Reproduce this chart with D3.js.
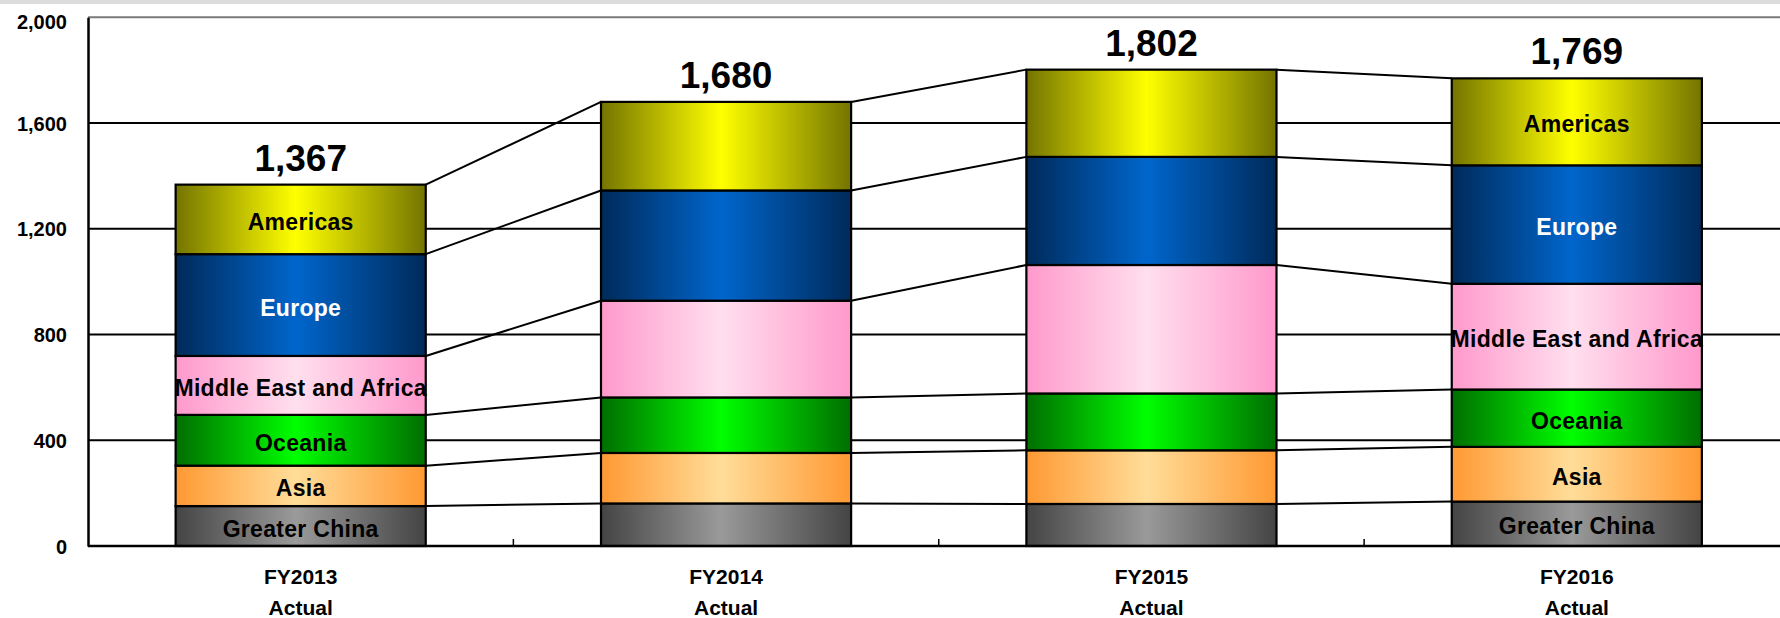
<!DOCTYPE html>
<html>
<head>
<meta charset="utf-8">
<script src="https://cdn.jsdelivr.net/npm/d3@7"></script>
<style>
  html, body { margin: 0; padding: 0; background: #ffffff; }
  svg { display: block; }
  text { font-family: "Liberation Sans", Arial, sans-serif; }
</style>
</head>
<body>
<svg id="chart" width="1780" height="618"></svg>
<script>
// ---------------- data ----------------
const categories = ["FY2013", "FY2014", "FY2015", "FY2016"];
const categorySubLabel = "Actual";
const regions = ["Greater China", "Asia", "Oceania", "Middle East and Africa", "Europe", "Americas"];
const greaterChina = [151, 161, 159, 168];
const asia         = [153, 191, 203, 207];
const oceania      = [192, 210, 215, 217];
const middleEastAfrica = [223, 366, 486, 400];
const europe       = [385, 417, 409, 448];
const americas     = [263, 335, 330, 329];
const totals       = [1367, 1680, 1802, 1769];
const yTicks       = [0, 400, 800, 1200, 1600, 2000];
const labeledCategories = ["FY2013", "FY2016"];

// ---------------- styles ----------------
const gradientStops = {
  "Greater China":          ["#444444", "#9a9a9a"],
  "Asia":                   ["#ff9933", "#ffdd99"],
  "Oceania":                ["#006e00", "#00ff00"],
  "Middle East and Africa": ["#ff99cc", "#ffdfee"],
  "Europe":                 ["#002a5a", "#0066cc"],
  "Americas":               ["#747400", "#ffff00"]
};
const labelColor = { "Europe": "#ffffff" };

const W = 1780, H = 618;
const plotLeft = 88, plotRight = 1789.5, plotTop = 17.3, plotBottom = 546;

const svg = d3.select("#chart");

// background strip at the very top
svg.append("rect").attr("x", 0).attr("y", 0).attr("width", W).attr("height", 4)
  .attr("fill", "#dcdcdc");

// gradients
const defs = svg.append("defs");
regions.forEach((r, i) => {
  const g = defs.append("linearGradient").attr("id", "grad" + i)
    .attr("x1", "0%").attr("x2", "100%").attr("y1", "0%").attr("y2", "0%");
  const [edge, mid] = gradientStops[r];
  g.append("stop").attr("offset", "0%").attr("stop-color", edge);
  g.append("stop").attr("offset", "48%").attr("stop-color", mid);
  g.append("stop").attr("offset", "100%").attr("stop-color", edge);
});

// scales
const x = d3.scaleBand().domain(categories).range([plotLeft, plotRight])
  .paddingInner(0.412).paddingOuter(0.206);
const y = d3.scaleLinear().domain([0, 2000]).range([plotBottom, plotTop]);

// stacked data
const seriesValues = [greaterChina, asia, oceania, middleEastAfrica, europe, americas];
const table = categories.map((c, i) => {
  const row = { category: c };
  regions.forEach((r, j) => row[r] = seriesValues[j][i]);
  return row;
});
const stacked = d3.stack().keys(regions)(table);

// gridlines
svg.append("g").selectAll("line").data(yTicks.filter(d => d > 0)).join("line")
  .attr("x1", plotLeft).attr("x2", W)
  .attr("y1", d => y(d)).attr("y2", d => y(d))
  .attr("stroke", d => d === 2000 ? "#7a7a7a" : "#000")
  .attr("stroke-width", 2);

// connector lines between bars
const conn = svg.append("g");
stacked.forEach(layer => {
  for (let i = 0; i < categories.length - 1; i++) {
    conn.append("line")
      .attr("x1", x(categories[i]) + x.bandwidth())
      .attr("y1", y(layer[i][1]))
      .attr("x2", x(categories[i + 1]))
      .attr("y2", y(layer[i + 1][1]))
      .attr("stroke", "#000").attr("stroke-width", 2);
  }
});

// bars
const barsG = svg.append("g");
stacked.forEach((layer, li) => {
  barsG.append("g").selectAll("rect").data(layer).join("rect")
    .attr("x", d => x(d.data.category))
    .attr("y", d => y(d[1]))
    .attr("width", x.bandwidth())
    .attr("height", d => y(d[0]) - y(d[1]))
    .attr("fill", "url(#grad" + li + ")")
    .attr("stroke", "#000").attr("stroke-width", 2.2);
});

// segment labels
const segG = svg.append("g");
stacked.forEach(layer => {
  const key = layer.key;
  segG.selectAll(null).data(layer.filter(d => labeledCategories.includes(d.data.category))).join("text")
    .attr("x", d => x(d.data.category) + x.bandwidth() / 2)
    .attr("y", d => (y(d[0]) + y(d[1])) / 2 + 2.5)
    .attr("text-anchor", "middle")
    .attr("dominant-baseline", "central")
    .attr("font-size", 23)
    .attr("font-weight", "bold")
    .attr("letter-spacing", 0.3)
    .attr("fill", labelColor[key] || "#000")
    .text(key);
});

// totals
svg.append("g").selectAll("text").data(categories).join("text")
  .attr("x", d => x(d) + x.bandwidth() / 2)
  .attr("y", (d, i) => y(totals[i]) - 14)
  .attr("text-anchor", "middle")
  .attr("font-size", 37)
  .attr("font-weight", "bold")
  .attr("fill", "#000")
  .text((d, i) => d3.format(",")(totals[i]));

// y axis
const yAxis = svg.append("g").attr("transform", `translate(${plotLeft},0)`)
  .call(d3.axisLeft(y).tickValues(yTicks).tickFormat(d3.format(",")).tickSize(0).tickPadding(21));
yAxis.select(".domain").attr("stroke", "#000").attr("stroke-width", 2.5);
yAxis.selectAll("text").attr("font-size", 20).attr("font-weight", "bold")
  .attr("fill", "#000").attr("font-family", "Liberation Sans, Arial, sans-serif")
  .attr("dy", d => d === 2000 ? "0.55em" : "0.35em");

// x axis baseline
svg.append("line").attr("x1", plotLeft).attr("x2", W)
  .attr("y1", y(0)).attr("y2", y(0))
  .attr("stroke", "#000").attr("stroke-width", 2.5);

// category boundary ticks (upward)
const step = x.step();
svg.append("g").selectAll("line").data(categories.slice(0, -1)).join("line")
  .attr("x1", d => x(d) + x.bandwidth() + (step - x.bandwidth()) / 2)
  .attr("x2", d => x(d) + x.bandwidth() + (step - x.bandwidth()) / 2)
  .attr("y1", y(0)).attr("y2", y(0) - 7)
  .attr("stroke", "#000").attr("stroke-width", 1.5);

// category labels
const catG = svg.append("g").selectAll("g").data(categories).join("g")
  .attr("transform", d => `translate(${x(d) + x.bandwidth() / 2},0)`);
catG.append("text").attr("y", 583.5).attr("text-anchor", "middle")
  .attr("font-size", 21).attr("font-weight", "bold").attr("fill", "#000")
  .text(d => d);
catG.append("text").attr("y", 615).attr("text-anchor", "middle")
  .attr("font-size", 21).attr("font-weight", "bold").attr("fill", "#000")
  .text(categorySubLabel);
</script>
</body>
</html>
